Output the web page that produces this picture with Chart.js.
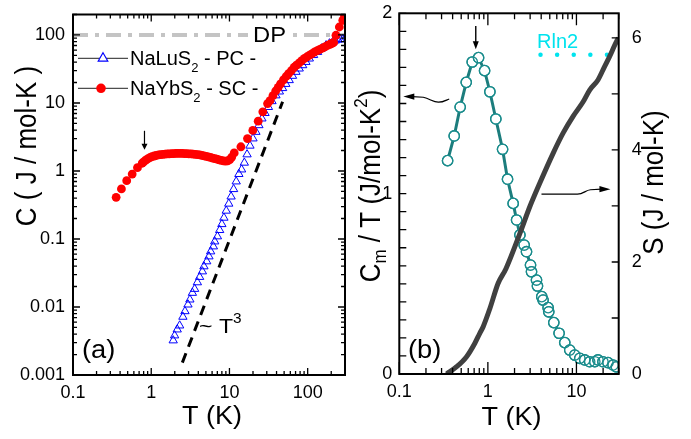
<!DOCTYPE html>
<html><head><meta charset="utf-8">
<script src="https://cdn.jsdelivr.net/npm/chart.js@4.4.1/dist/chart.umd.min.js"></script>
<style>
html,body{margin:0;padding:0;background:#fff;}
#wrap{position:relative;width:691px;height:439px;overflow:hidden;background:#fff;}
canvas{position:absolute;top:0;}
#ca{left:0;} #cb{left:352px;}
</style></head><body>
<div id="wrap">
<canvas id="ca" width="352" height="439"></canvas>
<canvas id="cb" width="339" height="439"></canvas>
</div>
<script>
// ---------------- Panel (a) data ----------------
// NaYbS2 - SC - (red filled circles): T (K), C (J/mol-K)
const ybT = [0.356,0.416,0.486,0.571,0.667,0.767,
  0.80,0.85,0.90,0.96,1.02,1.09,1.16,1.24,1.32,1.41,1.50,1.60,1.70,1.82,1.94,2.07,2.20,2.35,2.50,2.67,
  2.84,3.03,3.23,3.44,3.67,3.91,4.17,4.44,4.73,5.04,5.37,5.72,6.10,6.50,6.92,7.37,7.86,8.37,8.92,9.50,10.1,10.7,
  11.5,14.0,17.0,19.9,23.3,26.7,30.7,
  33,36,39,42,45,49,53,57,62,67,72,78,84,91,98,106,114,123,133,143,154,166,179,193,205,215,
  230,254,281,295];
const ybC = [0.41,0.545,0.72,0.90,1.12,1.30,
  1.36,1.44,1.51,1.57,1.62,1.66,1.69,1.72,1.74,1.76,1.77,1.78,1.79,1.80,1.80,1.81,1.81,1.81,1.81,1.80,
  1.80,1.79,1.78,1.77,1.76,1.74,1.72,1.70,1.67,1.64,1.61,1.58,1.55,1.52,1.49,1.46,1.43,1.41,1.40,1.41,1.47,1.60,
  1.84,2.27,3.0,3.95,5.4,7.4,9.8,
  10.8,12.8,15.0,17.0,19.1,21.8,24.5,27.0,30.0,33.5,36.0,39.0,42.0,45.2,47.8,50.7,53.3,56.3,59.0,61.6,64.0,67.0,70.0,73.0,75.5,77.5,
  99,131,164,192];
// NaLuS2 - PC - (blue open triangles)
const luT = [1.91,1.99,2.15,2.31,2.54,2.70,2.95,3.12,3.36,3.59,3.89,4.16,4.51,4.72,5.12,5.47,5.75,6.23,6.48,7.02,
  7.5,8.0,8.5,9.1,9.8,10.5,11.3,12.2,13.2,14.3,15.5,16.8,18.3,20.0,21.8,23.8,26.0,28.5,31.5,35.0,
  39.3,43.5,47.8,52.5,58.1,64.0,70.8,78.0,86.3,95.0,105,119,134,152,172,190,209,225,243,262,281,300];
const luC = [0.00322,0.00381,0.00466,0.00533,0.00716,0.00865,0.01084,0.01284,0.0161,0.0184,0.0230,0.0276,0.0333,0.0395,0.0468,0.0553,0.0655,0.0776,0.0918,0.109,
  0.135,0.165,0.205,0.26,0.33,0.42,0.54,0.70,0.90,1.05,1.32,1.75,2.35,3.0,3.75,4.7,5.9,7.1,8.7,10.6,
  12.9,14.7,16.5,19.0,21.6,25.0,28.6,32.0,35.8,40.0,44.9,50.5,56.1,63.5,70.4,75.0,78.8,82.5,85.4,86.0,86.5,87.0];
// ~T^3 guide line (end points)
const t3T = [2.5, 47.8];
const t3C = [0.00152, 10.4];
// Dulong-Petit level
const dpT = [0.1, 300];
const dpC = [100, 100];
// tick labels
const xTickValsA = [0.1, 1, 10, 100];
const xTickLabelsA = ['0.1', '1', '10', '100'];
const yTickValsA = [0.001, 0.01, 0.1, 1, 10, 100];
const yTickLabelsA = ['0.001', '0.01', '0.1', '1', '10', '100'];
// arrow marking the broad maximum
const arrowAT = 0.82, arrowAC = [3.9, 2.05];

// ---------------- Panel (b) data ----------------
// Cm/T (teal open circles)
const cmT = [0.351,0.417,0.487,0.570,0.666,0.785,0.918,1.054,1.23,1.465,1.667,1.93,2.11,2.30,2.57,2.73,3.03,3.11,3.54,3.63,
  4.06,4.20,4.79,4.87,5.55,6.37,7.38,8.40,9.57,10.9,12.4,14.1,16.1,17.5,19.9,22.7,25.9,28.2];
const cmC = [1.183,1.32,1.48,1.617,1.73,1.754,1.682,1.565,1.414,1.246,1.08,0.946,0.854,0.771,0.715,0.678,0.604,0.567,0.521,0.488,
  0.429,0.41,0.368,0.345,0.285,0.226,0.174,0.133,0.105,0.087,0.078,0.068,0.068,0.078,0.068,0.063,0.05,0.04];
// entropy S (dark grey line)
const sT = [0.342,0.444,0.575,0.713,0.81,0.885,1.054,1.306,1.6,2.30,2.98,3.86,5.45,7.06,9.16,11.9,14.1,17.5,19.95,23.7,28.2,30];
const sS = [0.0,0.13,0.31,0.55,0.727,0.845,1.17,1.62,1.88,2.51,2.99,3.41,3.94,4.30,4.6,4.86,5.07,5.25,5.43,5.67,5.93,6.0];
// R ln2 level
const rT = [3.93, 22.6];
const rS = [5.7, 5.7];
const xTickValsB = [0.1, 1, 10];
const xTickLabelsB = ['0.1', '1', '10'];
const yLTickValsB = [0, 1, 2];
const yLTickLabelsB = ['0', '1', '2'];
const yRTickValsB = [0, 2, 4, 6];
const yRTickLabelsB = ['0', '2', '4', '6'];
const arrowBT = 0.73, arrowBC = [1.93, 1.80];

// ---------------- helpers ----------------
const FONT = '"Liberation Sans", Arial, Helvetica, sans-serif';
function fnt(sz){ return sz + 'px ' + FONT; }
function pts(xs, ys){ return xs.map((x,i)=>({x:x, y:ys[i]})); }
function rich(ctx, segs, cx, cy, opt){
  opt = opt || {};
  ctx.save();
  ctx.translate(cx, cy);
  if (opt.rot) ctx.rotate(opt.rot);
  ctx.scale(opt.sx || 1, opt.sy || 1);
  ctx.fillStyle = opt.color || '#000';
  ctx.textBaseline = opt.baseline || 'alphabetic';
  ctx.textAlign = 'left';
  let w = 0;
  for (const g of segs){ ctx.font = fnt(g.s); w += ctx.measureText(g.t).width; }
  let x = opt.align === 'left' ? 0 : -w/2;
  for (const g of segs){ ctx.font = fnt(g.s); ctx.fillText(g.t, x, g.dy || 0); x += ctx.measureText(g.t).width; }
  ctx.restore();
}
function logMinors(min, max){
  const out = [];
  for (let e = Math.floor(Math.log10(min)); e <= Math.ceil(Math.log10(max)); e++){
    for (let m = 2; m <= 9; m++){ const v = m * Math.pow(10, e); if (v >= min*0.9999 && v <= max*1.0001) out.push(v); }
  }
  return out;
}
function drawTicks(ctx, scale, vals, len, sides, a){
  ctx.beginPath();
  for (const v of vals){
    const p = scale.getPixelForValue(v);
    for (const s of sides){
      if (s==='bottom'){ ctx.moveTo(p, a.bottom); ctx.lineTo(p, a.bottom-len); }
      if (s==='top'){ ctx.moveTo(p, a.top); ctx.lineTo(p, a.top+len); }
      if (s==='left'){ ctx.moveTo(a.left, p); ctx.lineTo(a.left+len, p); }
      if (s==='right'){ ctx.moveTo(a.right, p); ctx.lineTo(a.right-len, p); }
    }
  }
  ctx.stroke();
}
function head(ctx, tx, ty, ang, len, hw){
  ctx.beginPath();
  ctx.moveTo(tx, ty);
  ctx.lineTo(tx - len*Math.cos(ang) - hw*Math.sin(ang), ty - len*Math.sin(ang) + hw*Math.cos(ang));
  ctx.lineTo(tx - len*Math.cos(ang) + hw*Math.sin(ang), ty - len*Math.sin(ang) - hw*Math.cos(ang));
  ctx.closePath(); ctx.fill();
}
function fixAxis(size, vertical){
  return function(s){
    if (vertical) s.width = size; else s.height = size;
    s.paddingLeft = s.paddingRight = s.paddingTop = s.paddingBottom = 0;
  };
}
function tickFont(){ return {family: FONT, size: 18}; }
const noGrid = {display:false, drawTicks:false, tickLength:0};

// ---------------- Panel (a) ----------------
const decoA = {
  id: 'decoA',
  afterDatasetsDraw(chart){
    const ctx = chart.ctx, xs = chart.scales.x, ys = chart.scales.y;
    // DP label with white gap in the line
    const yDP = ys.getPixelForValue(dpC[0]);
    ctx.save(); ctx.fillStyle = '#fff'; ctx.fillRect(248, yDP-4, 42, 8); ctx.restore();
    rich(ctx, [{t:'DP', s:22}], 253, 41.7, {align:'left', sx:1.08});
    // ~T^3
    rich(ctx, [{t:'~ T', s:21}, {t:'3', s:14, dy:-10}], 199, 333, {align:'left', sx:1.1});
    // (a)
    rich(ctx, [{t:'(a)', s:26}], 82, 358, {align:'left', sx:1.05});
    // legend
    ctx.save();
    ctx.strokeStyle = '#222'; ctx.lineWidth = 1;
    ctx.beginPath(); ctx.moveTo(78, 58.3); ctx.lineTo(128, 58.3); ctx.moveTo(78, 88.3); ctx.lineTo(128, 88.3); ctx.stroke();
    const r = 5.5;
    ctx.beginPath();
    ctx.moveTo(103, 58.3 - r); ctx.lineTo(103 + 0.866*r, 58.3 + 0.5*r); ctx.lineTo(103 - 0.866*r, 58.3 + 0.5*r); ctx.closePath();
    ctx.fillStyle = '#fff'; ctx.fill(); ctx.strokeStyle = '#0000ff'; ctx.lineWidth = 1.2; ctx.stroke();
    ctx.beginPath(); ctx.arc(101, 88.3, 4.8, 0, Math.PI*2); ctx.fillStyle = '#ff0000'; ctx.fill();
    ctx.restore();
    rich(ctx, [{t:'NaLuS', s:20}, {t:'2', s:13, dy:7}, {t:' - PC -', s:20}], 130, 65, {align:'left'});
    rich(ctx, [{t:'NaYbS', s:20}, {t:'2', s:13, dy:7}, {t:' - SC -', s:20}], 130, 95, {align:'left'});
    // arrow
    const ax = xs.getPixelForValue(arrowAT), ay0 = ys.getPixelForValue(arrowAC[0]), ay1 = ys.getPixelForValue(arrowAC[1]);
    ctx.save(); ctx.strokeStyle = '#000'; ctx.fillStyle = '#000'; ctx.lineWidth = 1.2;
    ctx.beginPath(); ctx.moveTo(ax, ay0); ctx.lineTo(ax, ay1 - 5); ctx.stroke();
    head(ctx, ax, ay1, Math.PI/2, 6, 3);
    ctx.restore();
    // axis titles
    rich(ctx, [{t:'T (K)', s:25}], 212, 424, {sx:1.08});
    rich(ctx, [{t:'C ( J / mol-K )', s:26}], 28, 146, {rot:-Math.PI/2, baseline:'middle', sy:1.1});
  },
  afterDraw(chart){
    const ctx = chart.ctx, a = chart.chartArea, xs = chart.scales.x, ys = chart.scales.y;
    ctx.save();
    ctx.strokeStyle = '#000'; ctx.lineWidth = 1.3;
    drawTicks(ctx, xs, xTickValsA, 7, ['bottom','top'], a);
    drawTicks(ctx, xs, logMinors(0.1, 300), 4, ['bottom','top'], a);
    drawTicks(ctx, ys, yTickValsA, 7, ['left','right'], a);
    drawTicks(ctx, ys, logMinors(0.001, 200), 4, ['left','right'], a);
    ctx.lineWidth = 2;
    ctx.strokeRect(a.left, a.top, a.right - a.left, a.bottom - a.top);
    ctx.restore();
  }
};

new Chart(document.getElementById('ca'), {
  type: 'scatter',
  data: { datasets: [
    { label:'NaYbS2 - SC -', data: pts(ybT, ybC), showLine:false, pointStyle:'circle', pointRadius:4.4,
      pointBackgroundColor:'#ff0000', pointBorderColor:'#ff0000', pointBorderWidth:0, order:0 },
    { label:'NaLuS2 - PC -', data: pts(luT, luC), showLine:false, pointStyle:'triangle', pointRadius:4.8,
      pointBackgroundColor:'rgba(0,0,0,0)', pointBorderColor:'#0000ff', pointBorderWidth:1, order:1 },
    { label:'T3', data: pts(t3T, t3C), showLine:true, borderColor:'#000', borderWidth:3, borderDash:[10,7],
      pointRadius:0, order:2 },
    { label:'DP', data: pts(dpT, dpC), showLine:true, borderColor:'#c4c4c4', borderWidth:4, borderDash:[15,7,4,7],
      pointRadius:0, order:3 }
  ]},
  options: {
    responsive:false, animation:false, devicePixelRatio:1,
    layout:{ padding:{ left:0, right:7, top:14.5, bottom:0 } },
    plugins:{ legend:{display:false}, tooltip:{enabled:false} },
    scales:{
      x:{ type:'logarithmic', position:'bottom', min:0.1, max:300,
        grid:noGrid, border:{display:false},
        afterDataLimits(s){ s.min = 0.1; s.max = 300; },
        afterBuildTicks(s){ s.ticks = xTickValsA.map(v=>({value:v})); },
        ticks:{ autoSkip:false, maxRotation:0, padding:7, color:'#000', font:tickFont(),
          callback:(v,i)=>xTickLabelsA[i] },
        afterFit: fixAxis(64, false) },
      y:{ type:'logarithmic', position:'left', min:0.001, max:200,
        grid:noGrid, border:{display:false},
        afterDataLimits(s){ s.min = 0.001; s.max = 200; },
        afterBuildTicks(s){ s.ticks = yTickValsA.map(v=>({value:v})); },
        ticks:{ autoSkip:false, padding:8, color:'#000', font:tickFont(),
          callback:(v,i)=>yTickLabelsA[i] },
        afterFit: fixAxis(73, true) }
    }
  },
  plugins:[decoA]
});

// ---------------- Panel (b) ----------------
const OFF = 352;
const decoB = {
  id: 'decoB',
  afterDatasetsDraw(chart){
    const ctx = chart.ctx, xs = chart.scales.x, yl = chart.scales.yL, yr = chart.scales.yR;
    rich(ctx, [{t:'Rln2', s:20}], 537-OFF, 48, {align:'left', color:'#00e3ee'});
    rich(ctx, [{t:'(b)', s:26}], 408-OFF, 358, {align:'left', sx:1.05});
    ctx.save(); ctx.strokeStyle = '#000'; ctx.fillStyle = '#000';
    // peak arrow
    const ax = xs.getPixelForValue(arrowBT), ay0 = yl.getPixelForValue(arrowBC[0]), ay1 = yl.getPixelForValue(arrowBC[1]);
    ctx.lineWidth = 1.4;
    ctx.beginPath(); ctx.moveTo(ax, ay0); ctx.lineTo(ax, ay1-6); ctx.stroke();
    head(ctx, ax, ay1, Math.PI/2, 8, 3);
    // left-pointing arrow (to Cm/T axis)
    const tx = xs.getPixelForValue(0.111), ty = yl.getPixelForValue(1.538);
    const ex = xs.getPixelForValue(0.366), ey = yl.getPixelForValue(1.525);
    ctx.lineWidth = 1.2;
    ctx.beginPath(); ctx.moveTo(tx+9, ty); ctx.lineTo(tx+20, ty+0.6);
    ctx.bezierCurveTo(tx+27, ty+2.5, tx+30, ty+5.5, tx+35, ty+5.6);
    ctx.bezierCurveTo(tx+40, ty+5.7, ex-3, ey+1, ex, ey);
    ctx.stroke();
    head(ctx, tx, ty, Math.PI, 11, 3.2);
    // right-pointing arrow (to S axis)
    const sx0 = xs.getPixelForValue(4.03), sy0 = yr.getPixelForValue(3.21);
    const sx1 = xs.getPixelForValue(24.2), sy1 = yr.getPixelForValue(3.30);
    ctx.beginPath(); ctx.moveTo(sx0, sy0); ctx.lineTo(sx1-33, sy0);
    ctx.bezierCurveTo(sx1-27, sy0, sx1-25, sy1+1, sx1-20, sy1+0.6);
    ctx.lineTo(sx1-9, sy1); ctx.stroke();
    head(ctx, sx1, sy1, 0, 11, 3.2);
    ctx.restore();
    // axis titles
    rich(ctx, [{t:'T (K)', s:25}], 511.5-OFF, 425, {sx:1.08});
    rich(ctx, [{t:'C', s:26}, {t:'m', s:17, dy:8}, {t:' / T (J/mol-K', s:26}, {t:'2', s:17, dy:-9}, {t:')', s:26}],
         372-OFF, 186, {rot:-Math.PI/2, baseline:'middle', sy:1.1});
    rich(ctx, [{t:'S (J / mol-K)', s:26}], 655-OFF, 182.5, {rot:-Math.PI/2, baseline:'middle', sy:1.1});
  },
  afterDraw(chart){
    const ctx = chart.ctx, a = chart.chartArea, xs = chart.scales.x, yl = chart.scales.yL, yr = chart.scales.yR;
    ctx.save();
    ctx.strokeStyle = '#000'; ctx.lineWidth = 1.3;
    drawTicks(ctx, xs, xTickValsB, 12, ['bottom','top'], a);
    drawTicks(ctx, xs, logMinors(0.1, 30), 6, ['bottom','top'], a);
    const lt = []; for (let i = 0; i <= 20; i++) lt.push(i/10);
    drawTicks(ctx, yl, lt, 7, ['left'], a);
    drawTicks(ctx, yr, [0,1,2,3,4,5,6], 7, ['right'], a);
    ctx.lineWidth = 2;
    ctx.strokeRect(a.left, a.top, a.right - a.left, a.bottom - a.top);
    ctx.restore();
  }
};

new Chart(document.getElementById('cb'), {
  type: 'scatter',
  data: { datasets: [
    { label:'S', data: pts(sT, sS), yAxisID:'yR', showLine:true, borderColor:'#404040', borderWidth:5,
      cubicInterpolationMode:'monotone', pointRadius:0, order:0 },
    { label:'Cm/T outline', data: pts(cmT, cmC), yAxisID:'yL', showLine:false, pointRadius:5.2,
      pointBackgroundColor:'rgba(0,0,0,0)', pointBorderColor:'#1a8c8c', pointBorderWidth:1.3, order:1 },
    { label:'Cm/T', data: pts(cmT, cmC), yAxisID:'yL', showLine:true, borderColor:'#1c7d7d', borderWidth:3,
      pointRadius:5.2, pointBackgroundColor:'#fff', pointBorderColor:'#1a8c8c', pointBorderWidth:1.3, order:2 },
    { label:'Rln2', data: pts(rT, rS), yAxisID:'yR', showLine:true, borderColor:'#00e3ee', borderWidth:4.5,
      borderDash:[0.01,16.6], borderCapStyle:'round', pointRadius:0, order:3, clip:false }
  ]},
  options: {
    responsive:false, animation:false, devicePixelRatio:1,
    layout:{ padding:{ left:0, right:0, top:13.3, bottom:0 } },
    plugins:{ legend:{display:false}, tooltip:{enabled:false} },
    scales:{
      x:{ type:'logarithmic', position:'bottom', min:0.1, max:30,
        grid:noGrid, border:{display:false},
        afterDataLimits(s){ s.min = 0.1; s.max = 30; },
        afterBuildTicks(s){ s.ticks = xTickValsB.map(v=>({value:v})); },
        ticks:{ autoSkip:false, maxRotation:0, padding:7, color:'#000', font:tickFont(),
          callback:(v,i)=>xTickLabelsB[i] },
        afterFit: fixAxis(65, false) },
      yL:{ type:'linear', position:'left', min:0, max:2,
        grid:noGrid, border:{display:false},
        afterDataLimits(s){ s.min = 0; s.max = 2; },
        afterBuildTicks(s){ s.ticks = yLTickValsB.map(v=>({value:v})); },
        ticks:{ autoSkip:false, padding:7, color:'#000', font:tickFont(),
          callback:(v,i)=>yLTickLabelsB[i] },
        afterFit: fixAxis(47.3, true) },
      yR:{ type:'linear', position:'right', min:0, max:6.44,
        grid:noGrid, border:{display:false},
        afterDataLimits(s){ s.min = 0; s.max = 6.44; },
        afterBuildTicks(s){ s.ticks = yRTickValsB.map(v=>({value:v})); },
        ticks:{ autoSkip:false, padding:13, color:'#000', font:tickFont(),
          callback:(v,i)=>yRTickLabelsB[i] },
        afterFit: fixAxis(72.3, true) }
    }
  },
  plugins:[decoB]
});
</script>
</body></html>
